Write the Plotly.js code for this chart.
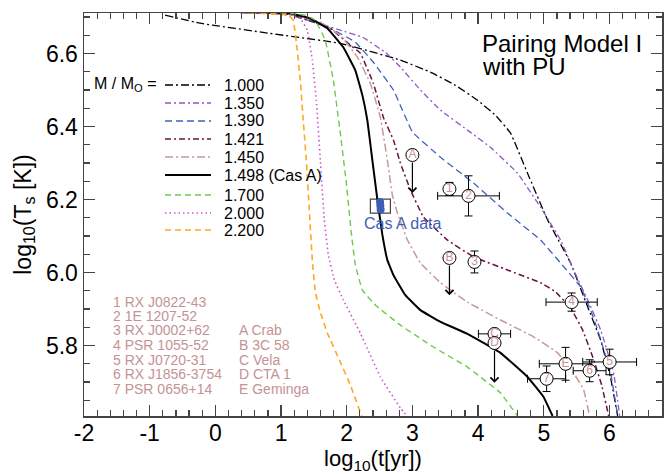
<!DOCTYPE html>
<html><head><meta charset="utf-8">
<script src="https://cdn.plot.ly/plotly-3.0.1.min.js"></script>
<style>html,body{margin:0;padding:0;background:#fff}</style>
</head><body><div id="chart" style="width:670px;height:474px"></div>
<script>
// ---------- data ----------
const massLabels = ['1.000','1.350','1.390','1.421','1.450','1.498 (Cas A)','1.700','2.000','2.200'];

const t_m1000 = [-0.765,-0.232,0.835,1.902,2.817,3.274,3.655,3.991,4.265,4.494,4.753,5.058,5.409,5.668,5.866,6.018,6.125];
const T_m1000 = [6.705,6.683,6.655,6.628,6.582,6.549,6.513,6.472,6.431,6.382,6.272,6.144,6.026,5.906,5.815,5.711,5.607];

const t_m1350 = [0.38,0.9,1.140,1.902,2.238,2.588,2.817,3.122,3.427,3.884,4.189,4.601,4.951,5.256,5.454,5.668,5.866,6.064,6.156];
const T_m1350 = [6.713,6.710,6.707,6.664,6.645,6.603,6.563,6.500,6.445,6.384,6.343,6.272,6.179,6.089,6.007,5.925,5.843,5.725,5.607];

const t_m1390 = [0.38,0.9,1.140,1.750,2.131,2.406,2.711,3.000,3.427,3.930,4.448,4.951,5.256,5.561,5.713,5.820,6.018,6.125];
const T_m1390 = [6.713,6.710,6.707,6.669,6.631,6.576,6.500,6.385,6.316,6.245,6.163,6.089,6.026,5.961,5.897,5.843,5.725,5.607];

const t_m1421 = [0.38,0.9,1.140,1.750,2.055,2.207,2.406,2.558,2.711,2.817,2.970,3.168,3.534,3.930,4.448,4.951,5.180,5.409,5.591,5.744,5.881,5.988];
const T_m1421 = [6.713,6.710,6.707,6.669,6.623,6.601,6.518,6.425,6.363,6.300,6.226,6.152,6.089,6.043,6.007,5.972,5.947,5.903,5.843,5.769,5.692,5.607];

const t_m1450 = [0.38,0.9,1.140,1.598,1.902,2.162,2.360,2.512,2.619,2.695,2.772,2.924,3.122,3.427,3.838,4.341,4.845,5.210,5.454,5.607,5.698];
const T_m1450 = [6.713,6.710,6.707,6.686,6.650,6.590,6.518,6.425,6.308,6.212,6.163,6.089,6.026,5.972,5.919,5.870,5.824,5.780,5.725,5.679,5.607];

const t_m1498 = [0.38,0.9,1.140,1.445,1.704,1.948,2.131,2.238,2.314,2.390,2.467,2.543,2.619,2.711,2.893,3.122,3.427,3.838,4.341,4.753,4.997,5.134];
const T_m1498 = [6.713,6.711,6.710,6.696,6.669,6.617,6.554,6.486,6.417,6.308,6.199,6.103,6.034,5.993,5.938,5.897,5.865,5.832,5.780,5.714,5.659,5.607];

const t_m1700 = [0.38,0.9,1.140,1.369,1.521,1.674,1.796,1.902,1.994,2.070,2.131,2.238,2.436,2.817,3.320,3.838,4.341,4.601];
const T_m1700 = [6.713,6.711,6.710,6.705,6.691,6.636,6.527,6.382,6.245,6.108,6.021,5.952,5.911,5.856,5.796,5.741,5.670,5.607];

const t_m2000 = [0.38,0.988,1.293,1.399,1.476,1.537,1.598,1.659,1.720,1.811,1.948,2.207,2.512,2.817,2.939];
const T_m2000 = [6.713,6.707,6.696,6.664,6.582,6.472,6.308,6.144,6.048,5.980,5.925,5.834,5.714,5.629,5.602];

const t_m2200 = [0.38,0.835,1.110,1.186,1.247,1.293,1.338,1.384,1.430,1.476,1.521,1.598,1.704,1.902,2.055,2.238];
const T_m2200 = [6.713,6.709,6.705,6.691,6.609,6.527,6.417,6.308,6.171,6.034,5.947,5.892,5.835,5.755,5.692,5.602];

// observed sources with error bars
const obsLabel = ['1','2','3','4','5','6','7','C','E'];
const obsT     = [3.564,3.854,3.945,5.424,6.003,5.698,5.043,4.250,5.332];
const obsTs    = [6.229,6.210,6.029,5.919,5.755,5.731,5.709,5.832,5.750];
const obsTerr  = [0,0.47,0,0.39,0.41,0.25,0.29,0.245,0.40];
const obsTsErr = [0.018,0.055,0.030,0.025,0.035,0.030,0.035,0,0.045];

// upper limits (arrows)
const limLabel = ['A','B','D'];
const limT     = [3.000,3.564,4.250];
const limTs    = [6.322,6.040,5.807];
const limTsEnd = [6.218,5.938,5.698];

// Cas A
const casA_t  = [2.508,2.512,2.516];
const casA_Ts = [6.193,6.183,6.173];
const casA_boxT  = [2.36,2.665];
const casA_boxTs = [6.163,6.201];

const srcList1 = ['1 RX J0822-43','2 1E 1207-52','3 RX J0002+62','4 PSR 1055-52','5 RX J0720-31','6 RX J1856-3754','7 PSR 0656+14'];
const srcList2 = ['A Crab','B 3C 58','C Vela','D CTA 1','E Geminga'];

const xTickVals = [-2,-1,0,1,2,3,4,5,6];
const xTickText = ['-2','-1','0','1','2','3','4','5','6'];
const yTickVals = [5.8,6.0,6.2,6.4,6.6];
const yTickText = ['5.8','6.0','6.2','6.4','6.6'];

// ---------- styles ----------
const FONT = 'Liberation Sans, Arial, Helvetica, sans-serif';
const ROSE = '#c49393';
const styles = [
  {color:'#000000', dash:'8px,3px,2px,3px', width:1.3},
  {color:'#8f55c8', dash:'6px,3px,2px,3px', width:1.3},
  {color:'#3f63b8', dash:'7px,4px', width:1.3},
  {color:'#6b1048', dash:'6px,3px,2px,3px', width:1.5},
  {color:'#c49a9a', dash:'8px,3px,2px,3px', width:1.5},
  {color:'#000000', dash:'solid', width:2},
  {color:'#6ecb4a', dash:'6px,4px', width:1.4},
  {color:'#cc55cc', dash:'1.5px,3px', width:1.6},
  {color:'#ffa820', dash:'6px,4px', width:1.6}
];
const curves = [[t_m1000,T_m1000],[t_m1350,T_m1350],[t_m1390,T_m1390],[t_m1421,T_m1421],[t_m1450,T_m1450],[t_m1498,T_m1498],[t_m1700,T_m1700],[t_m2000,T_m2000],[t_m2200,T_m2200]];

// plot-area pixel helpers (for the hand-drawn legend / labels)
const L=84, R=662, TOP=13, BOT=416;
const PX = p => (p-L)/(R-L);
const PY = p => (BOT-p)/(BOT-TOP);

const traces = [];
curves.forEach((c,i)=>{
  traces.push({x:c[0], y:c[1], mode:'lines', type:'scatter', hoverinfo:'skip',
    line:{color:styles[i].color, dash:styles[i].dash, width:styles[i].width, shape:'spline', smoothing:0.25},
    showlegend:false});
});

// Cas A blob
traces.push({x:casA_t, y:casA_Ts, mode:'markers', type:'scatter', showlegend:false,
  marker:{size:8, color:'#3f5fb5'}});

// observed points
traces.push({x:obsT, y:obsTs, mode:'markers+text', type:'scatter', showlegend:false,
  text:obsLabel, textposition:'middle center', cliponaxis:false,
  textfont:{family:FONT, size:12, color:ROSE},
  marker:{size:13, color:'#ffffff', line:{color:'#000', width:1}},
  error_x:{type:'data', array:obsTerr, color:'#000', thickness:1, width:4},
  error_y:{type:'data', array:obsTsErr, color:'#000', thickness:1, width:4}});

// upper limit points
traces.push({x:limT, y:limTs, mode:'markers+text', type:'scatter', showlegend:false,
  text:limLabel, textposition:'middle center', cliponaxis:false,
  textfont:{family:FONT, size:12, color:ROSE},
  marker:{size:13, color:'#ffffff', line:{color:'#000', width:1}}});

const shapes = [];
const annotations = [];

// Cas A box
shapes.push({type:'rect', xref:'x', yref:'y', x0:casA_boxT[0], x1:casA_boxT[1], y0:casA_boxTs[0], y1:casA_boxTs[1],
  line:{color:'#444', width:1.2}, fillcolor:'rgba(0,0,0,0)', layer:'below'});
annotations.push({xref:'paper', yref:'paper', x:PX(362), y:PY(224), xanchor:'left', yanchor:'middle',
  text:'Cas A data', showarrow:false, font:{family:FONT, size:16, color:'#3f5fb5'}});

// arrows for limits
limT.forEach((t,i)=>{
  annotations.push({x:t, y:limTsEnd[i], ax:t, ay:limTs[i], xref:'x', yref:'y', axref:'x', ayref:'y',
    showarrow:true, arrowhead:4, arrowsize:1.3, arrowwidth:1.2, arrowcolor:'#000', startstandoff:6, text:''});
});

// legend
const rows = [85,103,121,139,157,175,195,213,230];
annotations.push({xref:'paper', yref:'paper', x:PX(92), y:PY(84), xanchor:'left', yanchor:'middle',
  text:'M / M<sub>O</sub> =', showarrow:false, font:{family:FONT, size:16, color:'#000'}});
massLabels.forEach((lab,i)=>{
  shapes.push({type:'line', xref:'paper', yref:'paper', x0:PX(165), x1:PX(211), y0:PY(rows[i]), y1:PY(rows[i]),
    line:{color:styles[i].color, dash:styles[i].dash, width:styles[i].width}});
  annotations.push({xref:'paper', yref:'paper', x:PX(222), y:PY(rows[i]), xanchor:'left', yanchor:'middle',
    text:lab, showarrow:false, font:{family:FONT, size:16, color:'#000'}});
});

// title inside plot
annotations.push({xref:'paper', yref:'paper', x:PX(480), y:PY(43), xanchor:'left', yanchor:'middle',
  text:'Pairing Model I', showarrow:false, font:{family:FONT, size:24, color:'#000'}});
annotations.push({xref:'paper', yref:'paper', x:PX(480), y:PY(66), xanchor:'left', yanchor:'middle',
  text:'with PU', showarrow:false, font:{family:FONT, size:24, color:'#000'}});

// source list
const srcRows = [302,316,330,345,360,374,389];
srcList1.forEach((s,i)=>{
  annotations.push({xref:'paper', yref:'paper', x:PX(111), y:PY(srcRows[i]), xanchor:'left', yanchor:'middle',
    text:s, showarrow:false, font:{family:FONT, size:14, color:ROSE}});
});
srcList2.forEach((s,i)=>{
  annotations.push({xref:'paper', yref:'paper', x:PX(237), y:PY(srcRows[i+2]), xanchor:'left', yanchor:'middle',
    text:s, showarrow:false, font:{family:FONT, size:14, color:ROSE}});
});

const axisCommon = {
  showline:true, linecolor:'#444', linewidth:1.5, mirror:'ticks', showgrid:false, zeroline:false,
  ticks:'inside', ticklen:11, tickwidth:1.2, tickcolor:'#444',
  tickfont:{family:FONT, size:23, color:'#000'}, tickmode:'array'
};

const layout = {
  width:670, height:474,
  margin:{l:L, r:670-R, t:TOP, b:474-BOT},
  paper_bgcolor:'#fff', plot_bgcolor:'#fff',
  font:{family:FONT},
  showlegend:false,
  xaxis:Object.assign({}, axisCommon, {
    range:[-2,6.8], tickvals:xTickVals, ticktext:xTickText, ticklabelstandoff:-4,
    minor:{tickmode:'linear', tick0:-2, dtick:0.2, ticks:'inside', ticklen:6, tickwidth:1.2, tickcolor:'#444'},
    title:{text:'log<sub>10</sub>(t[yr])', font:{family:FONT, size:22, color:'#000'}, standoff:4}
  }),
  yaxis:Object.assign({}, axisCommon, {
    range:[5.607,6.711], tickvals:yTickVals, ticktext:yTickText,
    minor:{tickmode:'linear', tick0:5.6, dtick:0.05, ticks:'inside', ticklen:6, tickwidth:1.2, tickcolor:'#444'},
    title:{text:'log<sub>10</sub>(T<sub>s</sub> [K])', font:{family:FONT, size:23, color:'#000'}, standoff:8}
  }),
  shapes:shapes, annotations:annotations
};

Plotly.newPlot('chart', traces, layout, {staticPlot:true, displayModeBar:false});
</script></body></html>
